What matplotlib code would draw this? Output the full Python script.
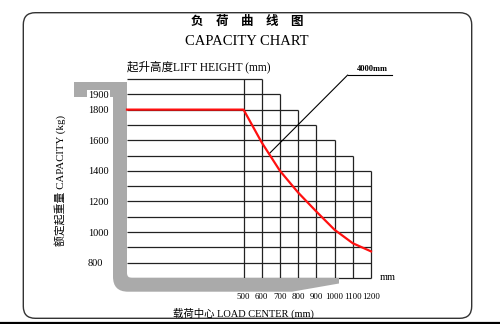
import matplotlib
matplotlib.use('Agg')
import matplotlib.pyplot as plt
import numpy as np
from matplotlib.path import Path
from matplotlib.patches import PathPatch, FancyBboxPatch
from matplotlib.lines import Line2D
from matplotlib.transforms import Affine2D

# Chart data
load_center = [500, 600, 700, 800, 900, 1000, 1100, 1200]          # mm
capacity = [1800, 1585, 1400, 1258, 1134, 1015, 927, 874]          # kg at each load center
rated_load = 1800
grid_levels = [2000, 1900, 1800, 1700, 1600, 1500, 1400,
               1300, 1200, 1100, 1000, 900, 800, 700]
level_ends = [600, 700, 800, 900, 1000, 1100, 1200,
              1200, 1200, 1200, 1200, 1200, 1200, 1200]
column_tops = [2000, 2000, 1900, 1800, 1700, 1600, 1500, 1400]
ytick_values = [1900, 1800, 1600, 1400, 1200, 1000, 800]
lift_label = '4000mm'

W, H = 500, 324
fig = plt.figure(figsize=(W / 100, H / 100), dpi=100)
# pixel coordinates, origin top-left
PX = Affine2D().scale(1 / W, -1 / H).translate(0, 1) + fig.transFigure

serif = ['Liberation Serif', 'Noto Sans CJK SC']
mast = -140

# grid area
ax = fig.add_axes([127 / W, 1 - 278 / H, (371 - 127) / W, (278 - 79) / H])
ax.set_xlim(mast, 1200)
ax.set_ylim(700, 2000)
for s in ax.spines.values():
    s.set_visible(False)
ax.patch.set_visible(False)

ax.hlines(grid_levels, mast, level_ends, color='#222222', lw=0.9, clip_on=False)
ax.vlines(load_center, 700, column_tops, color='#222222', lw=0.9, clip_on=False)

ax.plot([mast] + load_center, [rated_load] + capacity, color='#ff1010',
        lw=1.6, clip_on=False, zorder=4, solid_joinstyle='round')

# gray mast / fork shape (inside the axes so tick labels can sit on top)
verts = [(74, 82), (127, 82), (127, 273), (127, 278), (132, 278),
         (339, 278), (339, 283.5), (292, 291.7), (128, 291.7),
         (113, 291.7), (113, 276.7), (113, 97), (74, 97), (74, 82)]
codes = [Path.MOVETO, Path.LINETO, Path.LINETO, Path.CURVE3, Path.CURVE3,
         Path.LINETO, Path.LINETO, Path.LINETO, Path.LINETO,
         Path.CURVE3, Path.CURVE3, Path.LINETO, Path.LINETO, Path.CLOSEPOLY]
ax.add_artist(PathPatch(Path(verts, codes), facecolor='#aaaaaa',
                        edgecolor='none', transform=PX, zorder=3, clip_on=False))

ax.set_xticks(load_center)
ax.set_xticklabels([str(v) for v in load_center], fontsize=6.4, family=serif)
ax.set_yticks(ytick_values)
ax.set_yticklabels([str(v) for v in ytick_values], fontsize=7.5, family=serif)
ax.tick_params(axis='both', length=0)
ax.tick_params(axis='x', pad=11)
ax.tick_params(axis='y', pad=28)
ax.yaxis.set_zorder(5)
for t in ax.get_yticklabels():
    t.set_horizontalalignment('left')
    t.set_bbox(dict(facecolor='white', edgecolor='none', pad=0.6))

# rounded frame
fig.add_artist(FancyBboxPatch((23.3, 12.7), 448.4, 305.6,
                              boxstyle='round,pad=0,rounding_size=12',
                              facecolor='none', edgecolor='#333333', lw=1.0,
                              transform=PX, zorder=2))
fig.add_artist(Line2D([0, W], [322.5, 322.5], color='black', lw=1.6, transform=PX))

# lift height leader
x_lead = 640
ax.annotate('', xy=(x_lead, np.interp(x_lead, load_center, capacity)), xycoords='data',
            xytext=(347.7, 75), textcoords=PX,
            arrowprops=dict(arrowstyle='-', lw=0.8, color='black', shrinkA=0, shrinkB=0))
fig.add_artist(Line2D([347.7, 392.3], [75, 75], color='black', lw=0.8, transform=PX))
fig.text(372, 69, lift_label, transform=PX, fontsize=6, fontweight='bold',
         family=serif, ha='center', va='center')

# titles and labels
fig.text(247.5, 21.7, '负\u3000荷\u3000曲\u3000线\u3000图', transform=PX, fontsize=9,
         fontweight='bold', family=['Noto Sans CJK SC'], ha='center', va='center')
fig.text(247, 41.7, 'CAPACITY CHART', transform=PX, fontsize=10.5, family=serif,
         ha='center', va='center')
fig.text(127, 66.7, '起升高度LIFT HEIGHT (mm)', transform=PX, fontsize=8.3,
         family=serif, ha='left', va='center')
fig.text(60, 180, '额定起重量 CAPACITY (kg)', transform=PX, fontsize=7.8,
         family=serif, ha='center', va='center', rotation=90)
fig.text(243, 313, '载荷中心 LOAD CENTER (mm)', transform=PX, fontsize=7.5,
         family=serif, ha='center', va='center')
fig.text(388, 277, 'mm', transform=PX, fontsize=7.5, family=serif,
         ha='center', va='center')

fig.savefig('out.png', dpi=100)
